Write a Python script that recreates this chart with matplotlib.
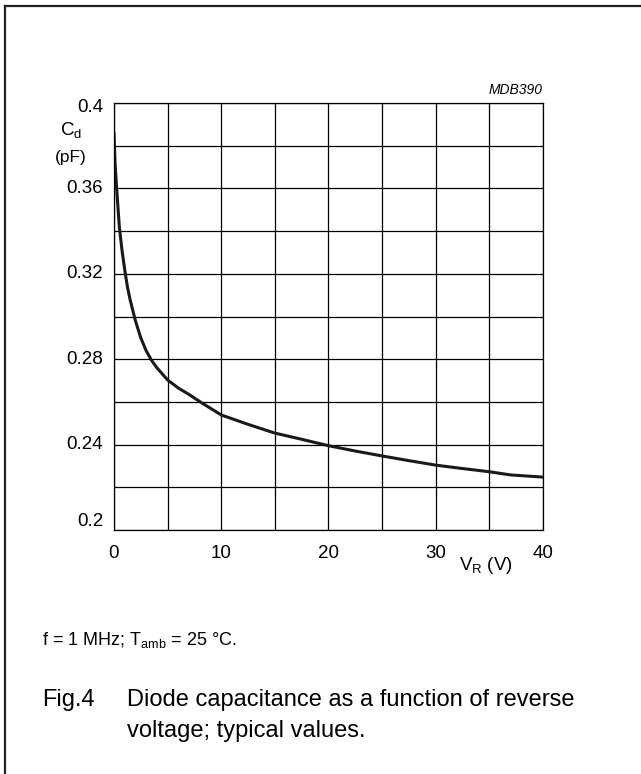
import matplotlib
matplotlib.use("Agg")
import matplotlib.pyplot as plt
from matplotlib.lines import Line2D

plt.rcParams["font.family"] = ["Liberation Sans", "DejaVu Sans"]
plt.rcParams["mathtext.fontset"] = "custom"
plt.rcParams["mathtext.rm"] = "Liberation Sans"

# Diode capacitance vs reverse voltage
v_r = [0, 0.1, 0.25, 0.5, 0.75, 1.0, 1.25, 1.5, 2, 2.5, 3, 3.5, 4, 5, 6, 7,
       8.2, 10, 12.5, 15, 17.5, 20, 22.5, 25, 27.5, 30, 32.5, 35, 37, 40]
c_d = [0.386, 0.372, 0.360, 0.342, 0.331, 0.322, 0.314, 0.308, 0.298, 0.290,
       0.284, 0.2795, 0.276, 0.2703, 0.2665, 0.2635, 0.2595, 0.2539, 0.2495,
       0.2454, 0.2425, 0.2395, 0.2370, 0.2347, 0.2325, 0.2304, 0.2288, 0.2273,
       0.2258, 0.2248]

x_ticks = [0, 10, 20, 30, 40]
y_ticks = [0.2, 0.24, 0.28, 0.32, 0.36, 0.4]
y_tick_labels = ["0.2", "0.24", "0.28", "0.32", "0.36", "0.4"]

fig = plt.figure(figsize=(6.41, 7.74), dpi=100)
ax = fig.add_axes([0.1778, 0.3152, 0.6693, 0.5517])

# frame of the datasheet figure (only top and left edges visible)
fig.add_artist(Line2D([4.5 / 641, 1], [1 - 5.5 / 774] * 2, color="#222222", lw=1.6))
fig.add_artist(Line2D([4.5 / 641] * 2, [0, 1 - 5.5 / 774], color="#222222", lw=1.6))

ax.plot(v_r, c_d, color="#1a1a1a", lw=2.2, solid_capstyle="round",
        solid_joinstyle="round")

ax.set_xlim(0, 40)
ax.set_ylim(0.2, 0.4)
ax.set_xticks([0, 5, 10, 15, 20, 25, 30, 35, 40])
ax.set_yticks([0.2 + 0.02 * i for i in range(11)])
ax.grid(True, color="black", lw=0.9)
ax.tick_params(length=0, labelleft=False, labelbottom=False)
for s in ax.spines.values():
    s.set_linewidth(0.9)

for x in x_ticks:
    ax.text(x, 0.2 - 0.007, str(x), ha="center", va="top", fontsize=13.5)
for y, lab in zip(y_ticks, y_tick_labels):
    va = "bottom" if y == 0.2 else "center"
    ax.text(-1.0, y - (0.002 if y == 0.4 else 0), lab, ha="right", va=va, fontsize=13.5)

ax.text(-4.0, 0.3875, r"$\mathregular{C_d}$", ha="center", va="center", fontsize=13.5)
ax.text(-4.0, 0.3745, "(pF)", ha="center", va="center", fontsize=12.5)
ax.text(32.2, 0.2 - 0.0117, r"$\mathregular{V_R}$ (V)", ha="left", va="top", fontsize=13.5)
ax.text(40, 0.403, "MDB390", ha="right", va="bottom", fontsize=10, style="italic")

fig.text(42 / 641, 1 - 640 / 774, r"f = 1 MHz; $\mathregular{T_{amb}}$ = 25 °C.",
         ha="left", va="center", fontsize=13)
fig.text(42 / 641, 1 - 700 / 774, "Fig.4", ha="left", va="center", fontsize=17)
fig.text(127 / 641, 1 - 700 / 774, "Diode capacitance as a function of reverse",
         ha="left", va="center", fontsize=17)
fig.text(127 / 641, 1 - 731 / 774, "voltage; typical values.",
         ha="left", va="center", fontsize=17)

fig.savefig("out.png", dpi=100)
